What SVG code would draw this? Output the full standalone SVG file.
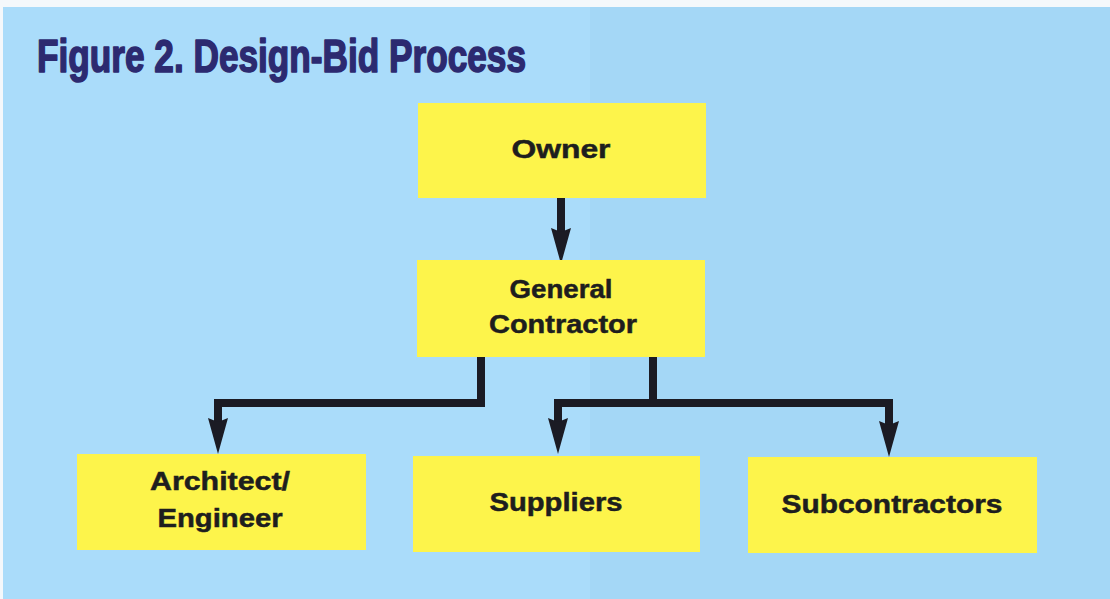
<svg xmlns="http://www.w3.org/2000/svg" width="1110" height="599" viewBox="0 0 1110 599">
  <style>
    .box { fill: #fdf44b; }
    .label { font-family: "Liberation Sans", Arial, sans-serif; font-weight: bold; font-size: 26px; fill: #1e1e1e; stroke: #1e1e1e; stroke-width: 0.5; text-anchor: middle; }
    .title { font-family: "Liberation Sans", Arial, sans-serif; font-weight: bold; font-size: 46px; fill: #2c2a70; stroke: #2c2a70; stroke-width: 1.6; stroke-linejoin: round; }
    .wire { fill: none; stroke: #1b1b24; stroke-width: 8; stroke-linejoin: miter; stroke-linecap: butt; }
  </style>
  <defs>
    <marker id="head" viewBox="0 0 36 20" refX="18" refY="10" markerWidth="36" markerHeight="20" markerUnits="userSpaceOnUse" orient="auto">
      <path d="M0,0 L36,10 L0,20 L4,10 z" fill="#1b1b24"/>
    </marker>
  </defs>

  <!-- page background -->
  <rect x="0" y="0" width="1110" height="599" fill="#f4f8fb"/>
  <rect x="3" y="7" width="1107" height="592" fill="#aadcfa"/>
  <rect x="590" y="7" width="520" height="592" fill="#a4d7f6"/>

  <!-- heading -->
  <text class="title" x="37" y="72" textLength="489" lengthAdjust="spacingAndGlyphs">Figure 2. Design-Bid Process</text>

  <!-- connectors -->
  <g id="connectors">
    <path class="wire" d="M561,198 V246" marker-end="url(#head)"/>
    <path class="wire" d="M481,357 V403 H218 V436" marker-end="url(#head)"/>
    <path class="wire" d="M653,357 V403"/>
    <path class="wire" d="M558,436 V403 H889 V439" marker-end="url(#head)"/>
    <path class="wire" d="M558,420 V436" marker-end="url(#head)"/>
  </g>

  <g id="owner">
    <rect class="box" x="418" y="103" width="288" height="95"/>
    <text class="label" x="561" y="158" textLength="99" lengthAdjust="spacingAndGlyphs">Owner</text>
  </g>

  <g id="general-contractor">
    <rect class="box" x="417" y="260" width="288" height="97"/>
    <text class="label" x="561" y="298" textLength="103" lengthAdjust="spacingAndGlyphs">General</text>
    <text class="label" x="563" y="333" textLength="148" lengthAdjust="spacingAndGlyphs">Contractor</text>
  </g>

  <g id="architect-engineer">
    <rect class="box" x="77" y="454" width="289" height="96"/>
    <text class="label" x="220" y="490" textLength="140" lengthAdjust="spacingAndGlyphs">Architect/</text>
    <text class="label" x="220" y="527" textLength="125" lengthAdjust="spacingAndGlyphs">Engineer</text>
  </g>

  <g id="suppliers">
    <rect class="box" x="413" y="456" width="287" height="96"/>
    <text class="label" x="556" y="511" textLength="133" lengthAdjust="spacingAndGlyphs">Suppliers</text>
  </g>

  <g id="subcontractors">
    <rect class="box" x="748" y="457" width="289" height="96"/>
    <text class="label" x="892" y="513" textLength="221" lengthAdjust="spacingAndGlyphs">Subcontractors</text>
  </g>
</svg>
